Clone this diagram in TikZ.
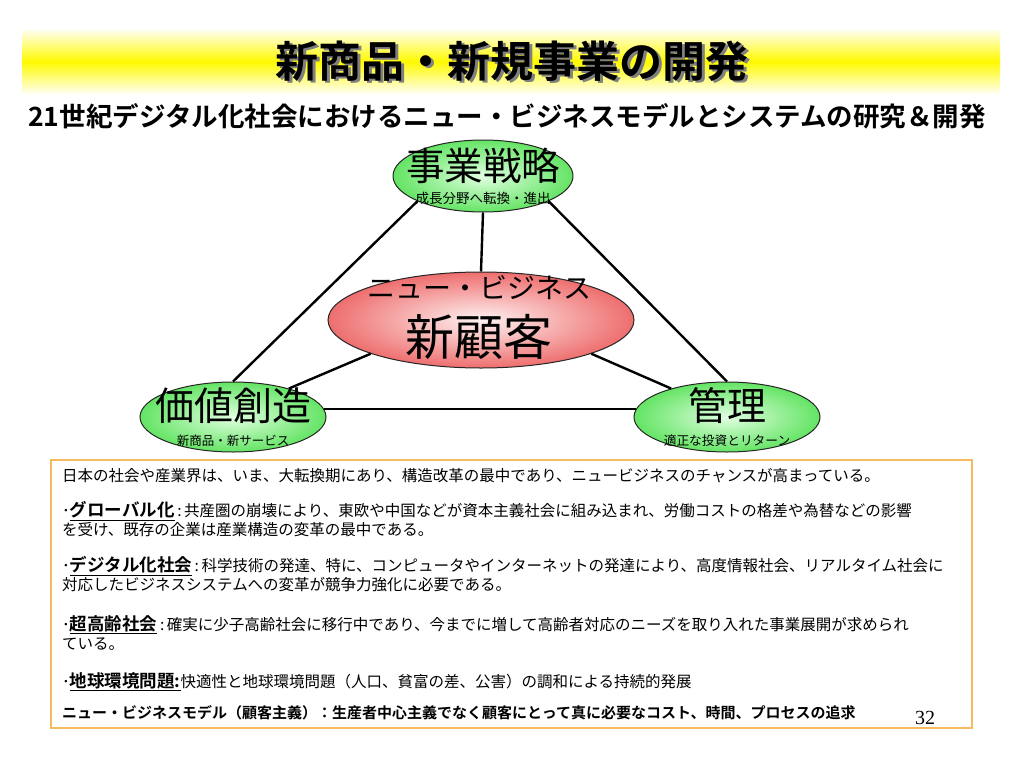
\documentclass[tikz,border=0pt]{standalone}
\usepackage{fontspec}
\setmainfont{Noto Sans CJK JP}[BoldFont={Noto Sans CJK JP Bold}]
\newfontfamily\pagefont{Liberation Serif}
\usetikzlibrary{shapes.geometric}
\definecolor{ballgreen}{RGB}{100,228,100}
\definecolor{ballgreenlight}{RGB}{225,255,225}
\definecolor{ballred}{RGB}{238,110,110}
\definecolor{ballredlight}{RGB}{255,242,242}
\definecolor{boxorange}{RGB}{245,185,95}
\definecolor{bandyellow}{RGB}{255,250,0}
\def\fsz#1{\fontsize{#1pt}{#1pt}\selectfont}
\def\lbl#1{{\bfseries\fsz{17.5}\underline{#1}}}
\def\shadowed#1{\rlap{\hspace{2.5pt}\raisebox{-2.5pt}{\textcolor{black!50}{#1}}}#1}
\tikzset{
  greenball/.style={ellipse, draw=black!85, line width=1pt, inner color=ballgreenlight, outer color=ballgreen, minimum width=186pt, minimum height=70pt, inner sep=0pt},
  redball/.style={ellipse, draw=black!85, line width=1pt, inner color=ballredlight, outer color=ballred, minimum width=306pt, minimum height=96pt, inner sep=0pt},
  link/.style={line width=2.4pt, black},
  txt/.style={inner sep=0pt},
  boxtxt/.style={anchor=west, inner sep=0pt, font=\fsz{15.5}}
}

\begin{document}
\begin{tikzpicture}[x=1pt, y=-1pt]
			%%%%% START %%%%%
			\useasboundingbox (0,0) rectangle (1024,768);
			\fill[white] (0,0) rectangle (1024,768);
			
			% title band
			\shade[top color=white, bottom color=white, middle color=bandyellow] (22,28) rectangle (1000,95);
			\node[txt, font=\bfseries\fsz{43}] (title) at (512,62) {\shadowed{新商品・新規事業の開発}};
			\node[txt, font=\bfseries\fsz{26.5}] (subtitle) at (507,116) {21世紀デジタル化社会におけるニュー・ビジネスモデルとシステムの研究＆開発};
			
			% ellipses
			\node[greenball, minimum width=180pt, minimum height=72pt] (strategy) at (483,176) {};
			\node[greenball] (value) at (233,417) {};
			\node[greenball] (manage) at (727,417) {};
			\node[redball] (customer) at (481,320) {};
			
			\draw[link] (strategy.201) -- (value.north);
			\draw[link] (strategy.339) -- (manage.north);
			\draw[link] (strategy.south) -- (customer.north);
			\draw[link] (value.27) -- (customer.197);
			\draw[link] (manage.153) -- (customer.343);
			\draw[link] (value.5) -- (manage.175);
			
			\node[txt, font=\fsz{38.5}] (strategyname) at (483,166) {事業戦略};
			\node[txt, font=\fsz{13.5}] (strategysub) at (483,198) {成長分野へ転換・進出};
			\node[txt, font=\fsz{39}] (valuename) at (233,406) {価値創造};
			\node[txt, font=\fsz{12.5}] (valuesub) at (233,441) {新商品・新サービス};
			\node[txt, font=\fsz{39}] (managename) at (727,406) {管理};
			\node[txt, font=\fsz{12.7}] (managesub) at (727,441) {適正な投資とリターン};
			\node[txt, font=\fsz{28}] (customertop) at (479,288) {ニュー・ビジネス};
			\node[txt, font=\fsz{49}] (customername) at (479,337) {新顧客};
			
			% text box
			\draw[boxorange, line width=1.2pt] (51,460) rectangle (972,728);
			\node[boxtxt] (line1) at (62,476) {日本の社会や産業界は、いま、大転換期にあり、構造改革の最中であり、ニュービジネスのチャンスが高まっている。};
			\node[boxtxt] (line2) at (62,511) {･\lbl{グローバル化}\,:\,共産圏の崩壊により、東欧や中国などが資本主義社会に組み込まれ、労働コストの格差や為替などの影響};
			\node[boxtxt] (line3) at (62,530) {を受け、既存の企業は産業構造の変革の最中である。};
			\node[boxtxt] (line4) at (62,566) {･\lbl{デジタル化社会}\,:\,科学技術の発達、特に、コンピュータやインターネットの発達により、高度情報社会、リアルタイム社会に};
			\node[boxtxt] (line5) at (62,585) {対応したビジネスシステムへの変革が競争力強化に必要である。};
			\node[boxtxt] (line6) at (62,625) {･\lbl{超高齢社会}\,:\,確実に少子高齢社会に移行中であり、今までに増して高齢者対応のニーズを取り入れた事業展開が求められ};
			\node[boxtxt] (line7) at (62,644) {ている。};
			\node[boxtxt] (line8) at (62,682) {･\lbl{地球環境問題:}快適性と地球環境問題（人口、貧富の差、公害）の調和による持続的発展};
			\node[boxtxt, font=\bfseries\fsz{15}] (line9) at (62,713) {ニュー・ビジネスモデル（顧客主義）：生産者中心主義でなく顧客にとって真に必要なコスト、時間、プロセスの追求};
			\node[txt, font=\pagefont\fsz{20}] (pagenum) at (925,718) {32};
			%%%%% END %%%%%
\end{tikzpicture}
\end{document}
